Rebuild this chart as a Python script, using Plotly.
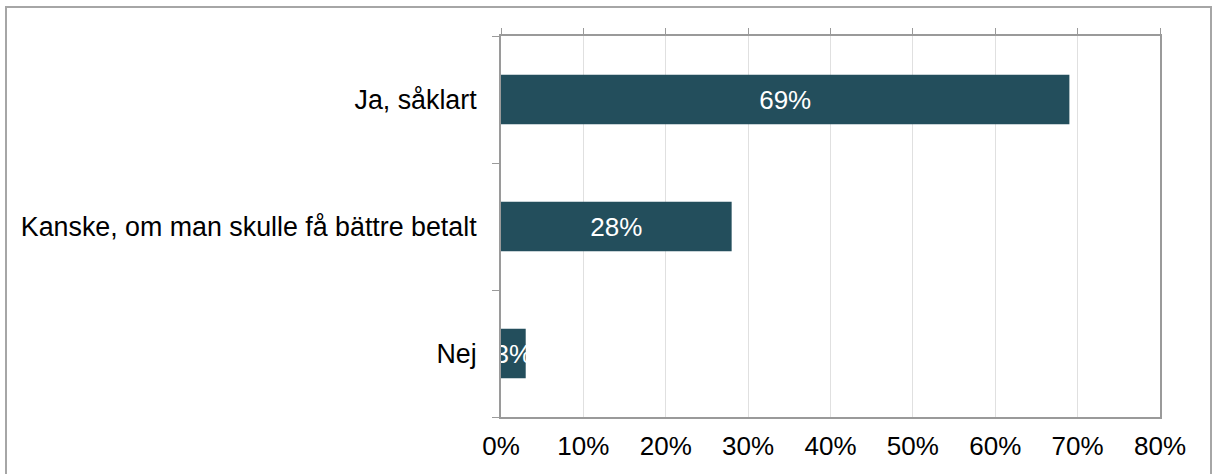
import plotly.graph_objects as go

categories = ["Ja, såklart", "Kanske, om man skulle få bättre betalt", "Nej"]
values = [69, 28, 3]
labels = ["69%", "28%", "3%"]
tick_vals = [0, 10, 20, 30, 40, 50, 60, 70, 80]
tick_text = ["0%", "10%", "20%", "30%", "40%", "50%", "60%", "70%", "80%"]

W, H = 1212, 474
L, R, T, B = 501, 52, 36, 57
pw, ph = W - L - R, H - T - B
FONT = "Liberation Sans, Arial, sans-serif"

fig = go.Figure()
fig.add_trace(go.Bar(
    y=categories, x=values, orientation="h",
    marker=dict(color="#234e5c", line=dict(width=0)),
    width=0.39,
    text=labels, textposition="inside", insidetextanchor="middle", textangle=0,
    textfont=dict(color="white", size=26, family=FONT),
    cliponaxis=False,
    hoverinfo="skip",
))
fig.add_trace(go.Scatter(x=[0], y=[categories[0]], xaxis="x2", mode="markers",
                         marker=dict(opacity=0), showlegend=False, hoverinfo="skip"))

axis_col = "#9a9a9a"
fig.update_layout(
    width=W, height=H,
    margin=dict(l=L, r=R, t=T, b=B),
    paper_bgcolor="white", plot_bgcolor="white",
    showlegend=False,
    font=dict(family=FONT, size=26, color="black"),
    uniformtext=dict(minsize=26, mode="show"),
    xaxis=dict(range=[0, 80], tickvals=tick_vals, ticktext=tick_text,
               showgrid=True, gridcolor="#e0e0e0", gridwidth=1,
               showline=True, linecolor=axis_col, linewidth=2, mirror=True,
               ticks="", zeroline=False, tickfont=dict(size=26),
               ticklabelstandoff=5),
    xaxis2=dict(range=[0, 80], tickvals=tick_vals, overlaying="x", side="top",
                showticklabels=False, ticks="outside", ticklen=7, tickwidth=1,
                tickcolor=axis_col, showgrid=False, showline=False, zeroline=False),
    yaxis=dict(categoryorder="array", categoryarray=categories[::-1],
               showline=True, linecolor=axis_col, linewidth=2, mirror=True,
               ticks="outside", tickson="boundaries", ticklen=7, tickwidth=1,
               tickcolor=axis_col, showgrid=False, zeroline=False,
               tickfont=dict(size=26.8), ticklabelstandoff=17),
    bargap=0.61,
    shapes=[dict(type="rect", xref="paper", yref="paper",
                 x0=(6 - L) / pw, x1=(1211 - L) / pw,
                 y0=(H - B - 500) / ph, y1=(H - B - 7) / ph,
                 line=dict(color="#a6a6a6", width=2), fillcolor="rgba(0,0,0,0)", layer="below")],
)

fig.write_html("out.html", config={"displayModeBar": False},
               post_script="document.body.style.margin='0';document.body.style.padding='0';")
